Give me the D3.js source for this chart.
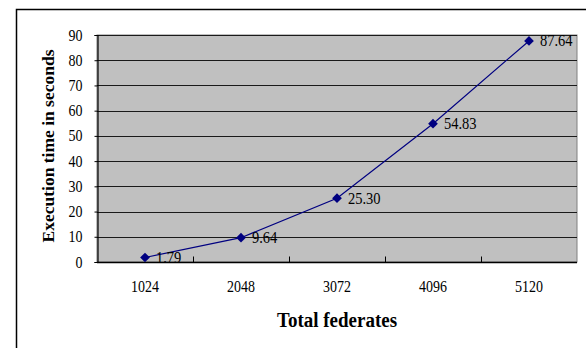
<!DOCTYPE html>
<html>
<head>
<meta charset="utf-8">
<script src="https://cdn.jsdelivr.net/npm/d3@7"></script>
<style>
  html, body { margin: 0; padding: 0; background: #fff; }
  svg { display: block; }
  text { font-family: "Liberation Serif", "Times New Roman", serif; fill: #000; }
</style>
</head>
<body>
<svg id="chart" width="586" height="348"></svg>
<script>
// Execution time for each federation size
const categories = ["1024", "2048", "3072", "4096", "5120"];
const seconds = [1.79, 9.64, 25.30, 54.83, 87.64];
const yTicks = [0, 10, 20, 30, 40, 50, 60, 70, 80, 90];
const xTitle = "Total federates";
const yTitle = "Execution time in seconds";

const svg = d3.select("#chart");
const plot = { left: 97, top: 35, right: 577, bottom: 262 };
const tall = 1.15; // glyphs are drawn slightly taller than wide

// outer chart frame (continues past the right and bottom edges)
svg.append("path")
  .attr("d", `M16.5,400 L16.5,9.5 L600,9.5`)
  .attr("fill", "none").attr("stroke", "#000").attr("stroke-width", 1.5);

const x = d3.scaleBand().domain(categories).range([plot.left, plot.right]).padding(0);
const y = d3.scaleLinear().domain([0, 90]).range([plot.bottom, plot.top]);
const cx = c => x(c) + x.bandwidth() / 2;

// plot area
svg.append("rect")
  .attr("x", plot.left).attr("y", plot.top)
  .attr("width", plot.right - plot.left).attr("height", plot.bottom - plot.top)
  .attr("fill", "#c0c0c0").attr("stroke", "#808080").attr("stroke-width", 1);

// horizontal gridlines
svg.append("g").selectAll("line").data(yTicks.filter(d => d > 0)).join("line")
  .attr("x1", plot.left).attr("x2", plot.right)
  .attr("y1", d => Math.round(y(d)) + 0.5).attr("y2", d => Math.round(y(d)) + 0.5)
  .attr("stroke", "#1a1a1a").attr("stroke-width", 1);

// y axis
const yAxis = svg.append("g")
  .attr("transform", `translate(${plot.left + 0.5},0)`)
  .call(d3.axisLeft(y).tickValues(yTicks).tickSize(3).tickPadding(0).tickFormat(d3.format("d")));
yAxis.select(".domain").attr("stroke", "#000").attr("stroke-width", 1.2);
yAxis.selectAll(".tick line").attr("stroke", "#000");
yAxis.selectAll(".tick text")
  .attr("x", null).attr("dy", null)
  .attr("font-size", 14).attr("font-family", "Liberation Serif")
  .attr("text-anchor", "end")
  .attr("transform", `translate(-15,5) scale(1,${tall})`);

// x axis: ticks between categories, pointing into the plot
const xAxisG = svg.append("g").attr("transform", `translate(0,${plot.bottom + 0.5})`);
xAxisG.append("line")
  .attr("x1", plot.left).attr("x2", plot.right)
  .attr("stroke", "#000").attr("stroke-width", 1.5);
const bounds = categories.slice(1).map(c => x(c));
xAxisG.selectAll("line.tk").data(bounds).join("line").attr("class", "tk")
  .attr("x1", d => Math.round(d) + 0.5).attr("x2", d => Math.round(d) + 0.5)
  .attr("y1", 0).attr("y2", -6).attr("stroke", "#000");
svg.append("g").selectAll("text").data(categories).join("text")
  .attr("transform", d => `translate(${cx(d)},292) scale(1,${tall})`)
  .attr("text-anchor", "middle").attr("font-size", 14)
  .text(d => d);

// line series
const pts = categories.map((c, i) => ({ c, v: seconds[i] }));
svg.append("path").datum(pts)
  .attr("fill", "none").attr("stroke", "#000080").attr("stroke-width", 1.2)
  .attr("d", d3.line().x(d => cx(d.c)).y(d => y(d.v)));

// diamond markers
svg.append("g").selectAll("path").data(pts).join("path")
  .attr("transform", d => `translate(${cx(d.c)},${y(d.v)})`)
  .attr("d", d3.symbol(d3.symbolDiamond2, 60))
  .attr("fill", "#000080");

// value labels
svg.append("g").selectAll("text").data(pts).join("text")
  .attr("transform", d => `translate(${cx(d.c) + 11},${y(d.v) + 5.5}) scale(1,${tall})`)
  .attr("font-size", 14.5)
  .text(d => d.v.toFixed(2));

// axis titles
svg.append("text")
  .attr("transform", `translate(337,326.5) scale(1,${tall})`)
  .attr("text-anchor", "middle").attr("font-size", 19).attr("font-weight", "bold")
  .text(xTitle);
svg.append("text")
  .attr("transform", `translate(54,146) rotate(-90)`)
  .attr("text-anchor", "middle").attr("font-size", 17.5).attr("font-weight", "bold")
  .text(yTitle);
</script>
</body>
</html>
